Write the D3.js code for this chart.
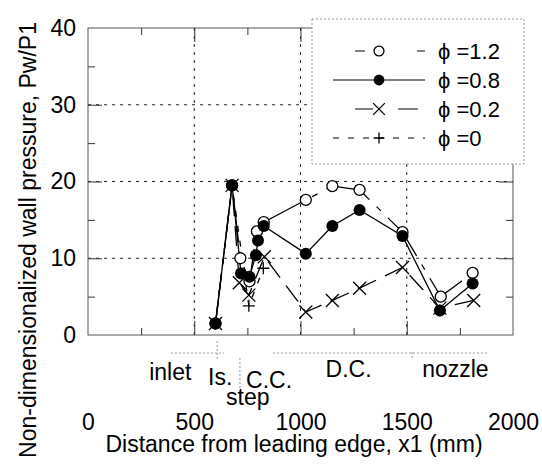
<!DOCTYPE html>
<html>
<head>
<meta charset="utf-8">
<script src="https://cdn.jsdelivr.net/npm/d3@7"></script>
<style>
  body { margin: 0; background: #fff; }
  text { font-family: "Liberation Sans", Arial, sans-serif; fill: #000; }
</style>
</head>
<body>
<svg width="542" height="466"></svg>
<script>
// axis ticks
var xTicks = [0, 500, 1000, 1500, 2000];
var yTicks = [0, 10, 20, 30, 40];
var xMinor = [250, 750, 1250, 1750];
var yMinor = [5, 15, 25, 35];

// series: distance x1 (mm) and Pw/P1
var x12 = [600, 678, 717, 760, 795, 827, 1025, 1150, 1278, 1480, 1660, 1810];
var y12 = [1.5, 19.5, 10.0, 7.0, 13.5, 14.7, 17.6, 19.4, 18.9, 13.4, 5.0, 8.1];
var x08 = [600, 678, 720, 760, 790, 800, 827, 1025, 1150, 1278, 1480, 1656, 1810];
var y08 = [1.5, 19.5, 8.0, 7.6, 10.4, 12.3, 14.2, 10.6, 14.2, 16.3, 12.9, 3.2, 6.7];
var x02 = [600, 678, 712, 757, 830, 1025, 1150, 1278, 1480, 1656, 1815];
var y02 = [1.5, 19.5, 6.8, 5.2, 10.2, 3.0, 4.5, 6.1, 8.8, 3.5, 4.5];
var x00 = [600, 678, 757, 825, 1656];
var y00 = [1.5, 19.5, 3.8, 8.7, 3.2];

var seriesNames = ["\u03D5 =1.2", "\u03D5 =0.8", "\u03D5 =0.2", "\u03D5 =0"];

// engine sections along the duct
var zoneNames = ["inlet", "Is.", "step", "C.C.", "D.C.", "nozzle"];
var zoneX = [387, 622, 752, 852, 1226, 1729];

// look of each series (drawn back to front)
var styles = {
  "\u03D5 =0":   { dash: "6,9",          marker: "plus",   legDash: "6,9",   legOff: 0 },
  "\u03D5 =0.2": { dash: "20,10",        marker: "cross",  legDash: "18,25,20,100", legOff: -22 },
  "\u03D5 =1.2": { dash: "48,10,6,10",   marker: "open",   legDash: "10,52,34,100", legOff: -22 },
  "\u03D5 =0.8": { dash: null,           marker: "filled", legDash: null,    legOff: 0 }
};

var svg = d3.select('svg');
var pL = 88, pR = 513, pT = 28, pB = 335;
var fs = '23px';

var x = d3.scaleLinear().domain([0, 2000]).range([pL, pR]);
var y = d3.scaleLinear().domain([0, 40]).range([pB, pT]);

var seriesX = [x12, x08, x02, x00];
var seriesY = [y12, y08, y02, y00];
var series = seriesNames.map(function(n, i) {
  return { name: n, pts: seriesX[i].map(function(v, j) { return [v, seriesY[i][j]]; }) };
});

// gridlines
svg.append('g').selectAll('line').data([500, 1000, 1500]).join('line')
  .attr('x1', d => x(d)).attr('x2', d => x(d))
  .attr('y1', pT).attr('y2', pB)
  .attr('stroke', '#222').attr('stroke-width', 1).attr('stroke-dasharray', '3,5');
svg.append('g').selectAll('line').data([10, 20, 30]).join('line')
  .attr('x1', pL).attr('x2', pR)
  .attr('y1', d => y(d)).attr('y2', d => y(d))
  .attr('stroke', '#222').attr('stroke-width', 1).attr('stroke-dasharray', '3,5');

// frame
svg.append('rect')
  .attr('x', pL).attr('y', pT)
  .attr('width', pR - pL).attr('height', pB - pT)
  .attr('fill', 'none').attr('stroke', '#555').attr('stroke-width', 1);

// inside ticks on all four sides
function innerTicks(axis, tr, vals, len) {
  var g = svg.append('g').attr('transform', tr)
    .call(axis.tickValues(vals).tickSize(len).tickFormat(''));
  g.select('.domain').remove();
  g.selectAll('line').attr('stroke', '#333');
}
innerTicks(d3.axisBottom(x), 'translate(0,' + pB + ')', xMinor, -7);
innerTicks(d3.axisTop(x), 'translate(0,' + pT + ')', xMinor, -7);
innerTicks(d3.axisBottom(x), 'translate(0,' + pB + ')', [500, 1000, 1500], -14);
innerTicks(d3.axisTop(x), 'translate(0,' + pT + ')', [500, 1000, 1500], -14);
innerTicks(d3.axisLeft(y), 'translate(' + pL + ',0)', yMinor, -7);
innerTicks(d3.axisRight(y), 'translate(' + pR + ',0)', yMinor, -7);
innerTicks(d3.axisLeft(y), 'translate(' + pL + ',0)', [10, 20, 30], -14);
innerTicks(d3.axisRight(y), 'translate(' + pR + ',0)', [10, 20, 30], -14);

// tick labels
var xl = svg.append('g').attr('transform', 'translate(0,' + pB + ')')
  .call(d3.axisBottom(x).tickValues(xTicks).tickSize(0).tickPadding(79).tickFormat(d3.format('d')));
xl.select('.domain').remove();
xl.selectAll('text').style('font-size', fs).style('font-family', '"Liberation Sans", Arial, sans-serif');

var yl = svg.append('g').attr('transform', 'translate(' + pL + ',0)')
  .call(d3.axisLeft(y).tickValues(yTicks).tickSize(0).tickPadding(12).tickFormat(d3.format('d')));
yl.select('.domain').remove();
yl.selectAll('text').style('font-size', fs).style('font-family', '"Liberation Sans", Arial, sans-serif');

// axis titles
svg.append('text')
  .attr('x', 294).attr('y', 452)
  .attr('text-anchor', 'middle').style('font-size', fs)
  .text('Distance from leading edge, x1 (mm)');
svg.append('text')
  .attr('transform', 'translate(36,240) rotate(-90)')
  .attr('text-anchor', 'middle').style('font-size', fs)
  .text('Non-dimensionalized wall pressure, Pw/P1');

// section markers under the axis
var zg = svg.append('g').attr('stroke', '#999').attr('stroke-width', 1).attr('stroke-dasharray', '2,2');
zg.append('line').attr('x1', x(390)).attr('x2', x(640)).attr('y1', 353).attr('y2', 353);
zg.append('line').attr('x1', x(870)).attr('x2', x(1880)).attr('y1', 353).attr('y2', 353);
zg.append('line').attr('x1', x(608)).attr('x2', x(608)).attr('y1', 341).attr('y2', 360);
zg.append('line').attr('x1', x(715)).attr('x2', x(715)).attr('y1', 358).attr('y2', 392);
zg.append('line').attr('x1', x(1525)).attr('x2', x(1525)).attr('y1', 352).attr('y2', 360);

var zoneBase = [380, 385, 405, 388, 377, 377];
svg.append('g').selectAll('text').data(zoneNames).join('text')
  .attr('x', (d, i) => x(zoneX[i])).attr('y', (d, i) => zoneBase[i])
  .attr('text-anchor', 'middle').style('font-size', fs)
  .text(d => d);

// lines
var line = d3.line().x(d => x(d[0])).y(d => y(d[1]));
function segments(pts) {
  // no line across a long run without readings
  var out = [[pts[0]]];
  for (var i = 1; i < pts.length; i++) {
    if (pts[i][0] - pts[i - 1][0] > 500) out.push([]);
    out[out.length - 1].push(pts[i]);
  }
  return out;
}
var order = ["\u03D5 =0", "\u03D5 =0.2", "\u03D5 =1.2", "\u03D5 =0.8"];
var ordered = order.map(n => series.find(s => s.name === n));

ordered.forEach(function(s) {
  var st = styles[s.name];
  svg.append('g').selectAll('path').data(segments(s.pts)).join('path')
    .attr('d', line)
    .attr('fill', 'none').attr('stroke', '#000').attr('stroke-width', 1.3)
    .attr('stroke-dasharray', st.dash);
});

function marker(g, type, cx, cy, sc) {
  sc = sc || 1;
  if (type === 'open') {
    g.append('circle').attr('cx', cx).attr('cy', cy).attr('r', 5.5 * sc)
      .attr('fill', '#fff').attr('stroke', '#000').attr('stroke-width', 1.3);
  } else if (type === 'filled') {
    g.append('circle').attr('cx', cx).attr('cy', cy).attr('r', 6 * sc).attr('fill', '#000');
  } else if (type === 'cross') {
    var a = 6.5 * sc;
    g.append('path').attr('d', 'M' + (cx - a) + ',' + (cy - a) + 'L' + (cx + a) + ',' + (cy + a) +
      'M' + (cx - a) + ',' + (cy + a) + 'L' + (cx + a) + ',' + (cy - a))
      .attr('stroke', '#000').attr('stroke-width', 1.3);
  } else {
    var b = 6 * sc;
    g.append('path').attr('d', 'M' + (cx - b) + ',' + cy + 'L' + (cx + b) + ',' + cy +
      'M' + cx + ',' + (cy - b) + 'L' + cx + ',' + (cy + b))
      .attr('stroke', '#000').attr('stroke-width', 1.3);
  }
}

ordered.forEach(function(s) {
  var g = svg.append('g');
  s.pts.forEach(p => marker(g, styles[s.name].marker, x(p[0]), y(p[1])));
});

// legend
var lg = svg.append('g');
lg.append('rect').attr('x', 312).attr('y', 19).attr('width', 212).attr('height', 145)
  .attr('fill', '#fff').attr('stroke', '#999').attr('stroke-width', 1).attr('stroke-dasharray', '2,2');
seriesNames.forEach(function(n, i) {
  var st = styles[n];
  var ly = 51 + i * 29;
  lg.append('line').attr('x1', 333).attr('x2', 425).attr('y1', ly).attr('y2', ly)
    .attr('stroke', '#000').attr('stroke-width', 1.2)
    .attr('stroke-dasharray', st.legDash).attr('stroke-dashoffset', st.legOff);
  marker(lg, st.marker, 379, ly, 0.9);
  lg.append('text').attr('x', 438).attr('y', ly + 8).style('font-size', '22px').text(n);
});
</script>
</body>
</html>
